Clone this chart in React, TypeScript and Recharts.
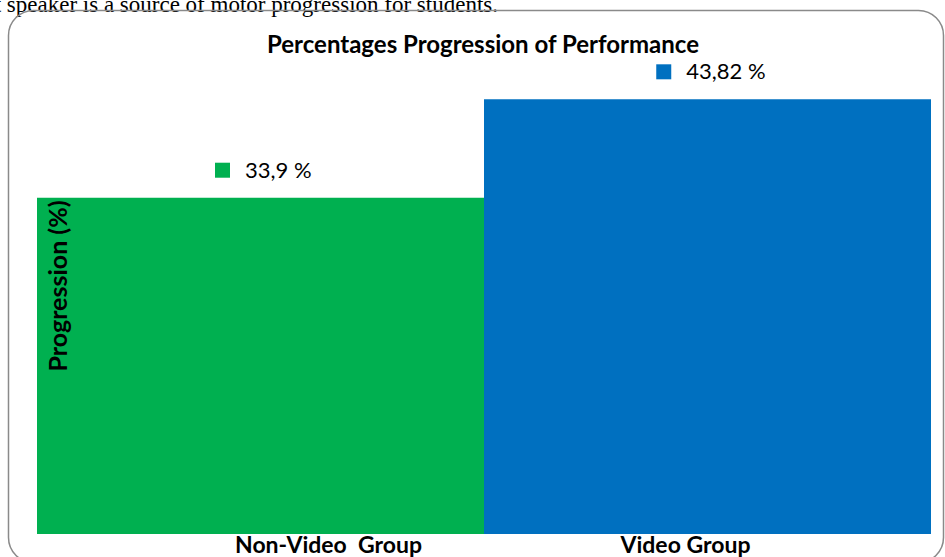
import React from 'react';
import { BarChart, Bar, XAxis, YAxis, Cell, LabelList } from 'recharts';

const categories = ['Non-Video  Group', 'Video Group'];
const values = [33.9, 43.82];
const valueLabels = ['33,9 %', '43,82 %'];
const colors = ['#00B050', '#0070C0'];
const tickOffsets = [68, -22];

const data = categories.map((c, i) => ({ name: c, value: values[i], label: valueLabels[i] }));

const SANS = 'Lato, "Open Sans", sans-serif';

const Tick = (props: any) => {
  const { x, y, payload, index } = props;
  return (
    <text
      x={x + tickOffsets[index]}
      y={y + 11}
      textAnchor="middle"
      fontFamily={SANS}
      fontWeight="bold"
      fontSize={23}
      fill="#000"
      style={{ whiteSpace: 'pre' }}
    >
      {payload.value}
    </text>
  );
};

const ValueLabel = (props: any) => {
  const { x, y, width, index } = props;
  const cx = x + width / 2 + 4;
  const txt = valueLabels[index];
  const approx = txt.length * 11.5 + 30;
  const left = cx - approx / 2;
  const base = y - 20;
  return (
    <g>
      <rect x={left} y={base - 15} width={15} height={15} fill={colors[index]} />
      <text x={left + 30} y={base} fontFamily={SANS} fontSize={22} fill="#000">
        {txt}
      </text>
    </g>
  );
};

export default function App() {
  return (
    <div style={{ position: 'fixed', left: 0, top: 0, width: 945, height: 557, background: '#fff', overflow: 'hidden' }}>
      <div style={{ position: 'absolute', left: 0, top: 0 }}>
        <BarChart
          width={945}
          height={557}
          data={data}
          margin={{ top: 38, right: 14, left: 37, bottom: 0 }}
          barCategoryGap={0}
        >
          <YAxis hide domain={[0, 50]} />
          <XAxis dataKey="name" axisLine={false} tickLine={false} height={23} tick={<Tick />} interval={0} />
          <Bar dataKey="value" isAnimationActive={false}>
            {data.map((d, i) => (
              <Cell key={d.name} fill={colors[i]} />
            ))}
            <LabelList dataKey="value" content={<ValueLabel />} />
          </Bar>
        </BarChart>
      </div>
      <svg width={945} height={557} style={{ position: 'absolute', left: 0, top: 0, pointerEvents: 'none' }}>
        <text x={498} y={12} textAnchor="end" fontFamily='"Liberation Serif", "Times New Roman", serif' fontSize={23} fill="#000">
          that speaker is a source of motor progression for students.
        </text>
        <rect x={8.5} y={10.5} width={935} height={552} rx={25} ry={25} fill="none" stroke="#8a8a8a" strokeWidth={1.5} />
        <text x={483} y={53} textAnchor="middle" fontFamily={SANS} fontWeight="bold" fontSize={24} fill="#000">
          Percentages Progression of Performance
        </text>
        <text
          x={0}
          y={0}
          transform="translate(67,286) rotate(-90)"
          textAnchor="middle"
          fontFamily={SANS}
          fontWeight="bold"
          fontSize={25}
          fill="#000"
        >
          Progression (%)
        </text>
      </svg>
    </div>
  );
}
